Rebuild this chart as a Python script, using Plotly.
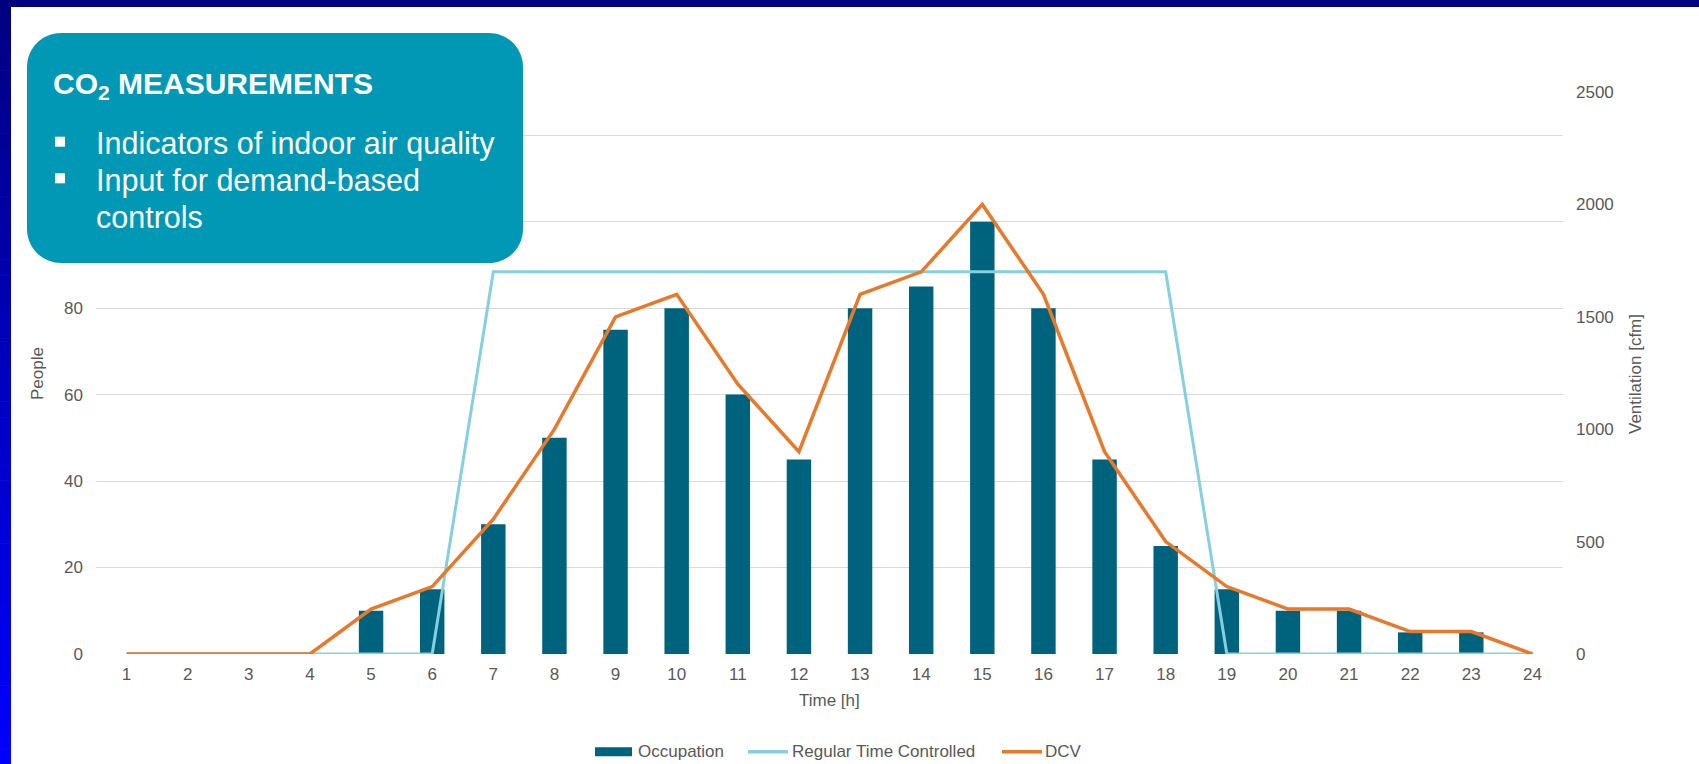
import plotly.graph_objects as go

# ---- data -------------------------------------------------------------
hours = list(range(1, 25))
occupation = [0, 0, 0, 0, 10, 15, 30, 50, 75, 80, 60, 45,
              80, 85, 100, 80, 45, 25, 15, 10, 10, 5, 5, 0]
regular_time_controlled = [0, 0, 0, 0, 0, 0, 1700, 1700, 1700, 1700, 1700, 1700,
                           1700, 1700, 1700, 1700, 1700, 1700, 0, 0, 0, 0, 0, 0]
dcv = [0, 0, 0, 0, 200, 300, 600, 1000, 1500, 1600, 1200, 900,
       1600, 1700, 2000, 1600, 900, 500, 300, 200, 200, 100, 100, 0]
people_ticks = [0, 20, 40, 60, 80, 100, 120]
vent_ticks = [0, 500, 1000, 1500, 2000, 2500]

# ---- styling ----------------------------------------------------------
W, H = 1699, 764
L, R, T, B = 96, 1563, 92, 654          # plot area in pixels
FONT = "Liberation Sans, Arial, sans-serif"
GREY = "#595959"
BAR_C = "#00637E"
REG_C = "#86CFE0"
DCV_C = "#E8782A"
BOX_C = "#0098B5"


def px(x):
    return (x - L) / (R - L)


def py(y):
    return (B - y) / (B - T)


def rounded_rect(x0, y0, x1, y1, r):
    k = 0.5523 * r
    pts = [
        ("M", [(x0 + r, y0)]),
        ("L", [(x1 - r, y0)]),
        ("C", [(x1 - r + k, y0), (x1, y0 + r - k), (x1, y0 + r)]),
        ("L", [(x1, y1 - r)]),
        ("C", [(x1, y1 - r + k), (x1 - r + k, y1), (x1 - r, y1)]),
        ("L", [(x0 + r, y1)]),
        ("C", [(x0 + r - k, y1), (x0, y1 - r + k), (x0, y1 - r)]),
        ("L", [(x0, y0 + r)]),
        ("C", [(x0, y0 + r - k), (x0 + r - k, y0), (x0 + r, y0)]),
    ]
    s = ""
    for cmd, ps in pts:
        s += cmd + " ".join(f"{px(a):.5f},{py(b):.5f}" for a, b in ps) + " "
    return s + "Z"


def label(text, x, y, size=17, color=GREY, xanchor="left", yanchor="middle", angle=0):
    return dict(text=text, x=px(x), y=py(y), xref="paper", yref="paper",
                xanchor=xanchor, yanchor=yanchor, textangle=angle,
                showarrow=False, font=dict(family=FONT, size=size, color=color))


fig = go.Figure()

fig.add_trace(go.Bar(
    x=hours, y=occupation, name="Occupation",
    marker=dict(color=BAR_C, line=dict(width=0)), width=0.4,
    yaxis="y",
))
fig.add_trace(go.Scatter(
    x=hours, y=regular_time_controlled, name="Regular Time Controlled",
    mode="lines", line=dict(color=REG_C, width=3), yaxis="y2",
))
fig.add_trace(go.Scatter(
    x=hours, y=dcv, name="DCV",
    mode="lines", line=dict(color=DCV_C, width=3.5), yaxis="y2",
))

shapes = []
annotations = []

# info box
shapes.append(dict(type="path", path=rounded_rect(27, 33, 523, 263, 34),
                   xref="paper", yref="paper", fillcolor=BOX_C,
                   line=dict(width=0), layer="above"))
annotations.append(label("<b>CO<sub>2</sub> MEASUREMENTS</b>", 51, 65, size=30,
                         color="white", yanchor="top"))
for txt, top in [("Indicators of indoor air quality", 124.5),
                 ("Input for demand-based", 161.2),
                 ("controls", 197.9)]:
    annotations.append(label(txt, 93.5, top, size=30.5, color="white", yanchor="top"))
for cy in (141.7, 178.3):
    shapes.append(dict(type="rect", xref="paper", yref="paper",
                       x0=px(55), x1=px(65), y0=py(cy - 5), y1=py(cy + 5),
                       fillcolor="white", line=dict(width=0), layer="above"))

# axis titles
annotations.append(label("People", 37, 374, xanchor="center", angle=-90))
annotations.append(label("Ventilation [cfm]", 1635, 374, xanchor="center", angle=-90))
annotations.append(label("Time [h]", 829.5, 701, xanchor="center"))

# legend
LY = 751.7
shapes.append(dict(type="rect", xref="paper", yref="paper",
                   x0=px(595), x1=px(632), y0=py(LY + 4.5), y1=py(LY - 4.5),
                   fillcolor=BAR_C, line=dict(width=0), layer="above"))
shapes.append(dict(type="line", xref="paper", yref="paper",
                   x0=px(748), x1=px(788), y0=py(LY), y1=py(LY),
                   line=dict(color=REG_C, width=3.5), layer="above"))
shapes.append(dict(type="line", xref="paper", yref="paper",
                   x0=px(1002), x1=px(1042), y0=py(LY), y1=py(LY),
                   line=dict(color=DCV_C, width=3.5), layer="above"))
for txt, lx in [("Occupation", 635.5), ("Regular Time Controlled", 789.5), ("DCV", 1042.5)]:
    annotations.append(label(txt, lx, LY))

# slide frame: navy top band and blue gradient on the left edge
shapes.append(dict(type="rect", xref="paper", yref="paper",
                   x0=px(0), x1=px(W), y0=py(0), y1=py(7),
                   fillcolor="#000080", line=dict(width=0), layer="above"))
N = 48
for i in range(N):
    y0 = 7 + (H - 7) * i / N
    y1 = 7 + (H - 7) * (i + 1) / N
    b = int(round(128 + 127 * ((y0 + y1) / 2) / H))
    shapes.append(dict(type="rect", xref="paper", yref="paper",
                       x0=px(0), x1=px(11), y0=py(y0), y1=py(y1 + 0.6),
                       fillcolor=f"rgb(0,0,{b})", line=dict(width=0), layer="above"))

fig.update_layout(
    width=W, height=H,
    margin=dict(l=L, r=W - R, t=T, b=H - B, pad=0),
    paper_bgcolor="white", plot_bgcolor="white",
    showlegend=False,
    font=dict(family=FONT, size=17, color=GREY),
    xaxis=dict(range=[0.5, 24.5], tickvals=hours, ticktext=[str(h) for h in hours],
               showgrid=False, zeroline=False, showline=False, ticks="",
               ticklabelstandoff=8, tickfont=dict(size=17, color=GREY)),
    yaxis=dict(range=[0, 130], tickvals=people_ticks, showgrid=True,
               gridcolor="#D9D9D9", gridwidth=1.3, zeroline=False, showline=False,
               ticks="", ticklabelstandoff=12, tickfont=dict(size=17, color=GREY)),
    yaxis2=dict(range=[0, 2500], tickvals=vent_ticks, overlaying="y", side="right",
                showgrid=False, zeroline=False, showline=False, ticks="",
                ticklabelstandoff=12, tickfont=dict(size=17, color=GREY)),
    shapes=shapes,
    annotations=annotations,
)

fig.write_html("out.html")
